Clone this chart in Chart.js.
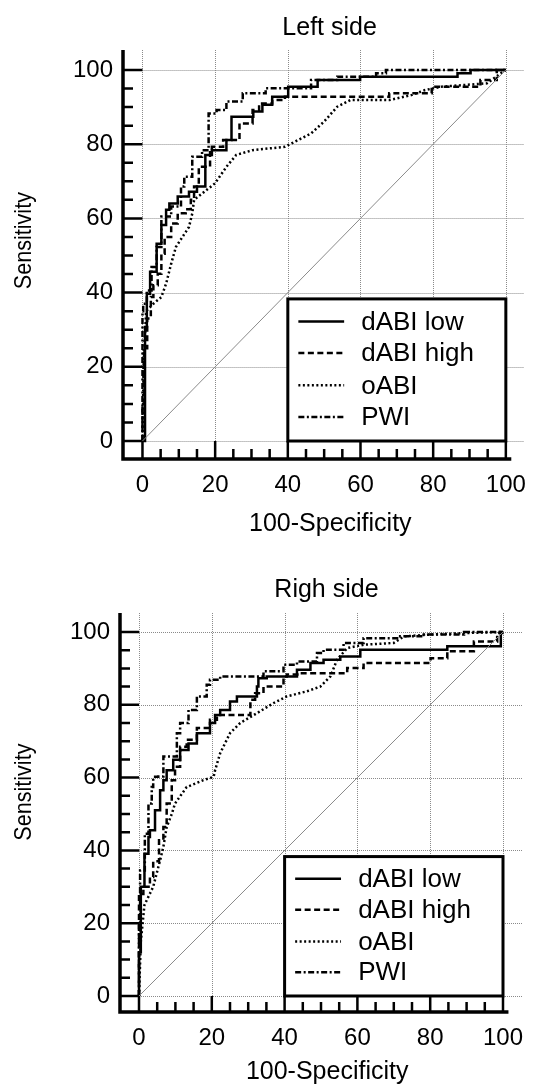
<!DOCTYPE html>
<html>
<head>
<meta charset="utf-8">
<script src="https://cdn.jsdelivr.net/npm/chart.js@4.4.1/dist/chart.umd.min.js"></script>
<style>
  html, body { margin: 0; padding: 0; background: #fff; }
  .panel { position: relative; width: 538px; }
  #leftPanel { height: 545px; }
  #rightPanel { height: 544px; }
</style>
</head>
<body>
<div class="panel" id="leftPanel"><canvas id="leftChart"></canvas></div>
<div class="panel" id="rightPanel"><canvas id="rightChart"></canvas></div>
<script>
// ROC curves (x = 100-Specificity, y = Sensitivity)
const tickValues = [0, 20, 40, 60, 80, 100];
const seriesNames = ["dABI low", "dABI high", "oABI", "PWI"];
const diagX = [0, 100];
const diagY = [0, 100];

// Left side
const leftLowX = [0, 0.7, 0.7, 1.2, 2.1, 3.9, 5.2, 6.5, 7.4, 9.7, 12.8, 15.0, 17.3, 19.1, 23.1, 24.5, 26.7, 30.5, 33.0, 35.7, 40.1, 48.2, 59.9, 86.7, 90.3, 99.3, 100];
const leftLowY = [0, 0, 9, 30.7, 39.7, 45.6, 53.2, 58.2, 62.3, 64.0, 65.9, 67.2, 68.6, 77.1, 78.4, 81.1, 87.4, 87.4, 88.8, 90.6, 92.8, 95.5, 97.3, 98.2, 99.1, 100, 100];
const leftHighX = [0, 0.5, 1.3, 2.3, 3.0, 4.2, 5.2, 6.1, 7.9, 9.7, 11.9, 13.3, 14.2, 15.5, 18.6, 19.1, 22.2, 26.7, 30.3, 32.1, 35.7, 39.2, 48.2, 67.9, 79.6, 93.0, 97.5, 99.3, 100];
const leftHighY = [0, 10, 25, 33, 38.8, 42, 45.1, 50.5, 55.0, 58.6, 61.4, 62.5, 65.0, 68.6, 73.9, 78.4, 79.3, 81.1, 85.6, 89.2, 91.0, 91.9, 92.8, 92.8, 93.7, 95.5, 97.3, 100, 100];
const leftOX = [0, 0.3, 1.0, 3.0, 5.2, 6.5, 7.9, 9.2, 11.0, 12.8, 13.7, 14.2, 17.7, 20.0, 23.1, 25.8, 30.3, 39.2, 42.8, 46.4, 50.0, 53.6, 57.2, 67.9, 74.2, 77.8, 82.3, 94.8, 99.3, 100];
const leftOY = [0, 20, 35, 37, 38.8, 42.4, 47.8, 52.3, 55.0, 57.7, 61.3, 65.0, 67.7, 69.5, 73.9, 77.1, 78.4, 79.3, 81.1, 82.9, 86.1, 90.1, 91.9, 91.9, 93.3, 94.6, 95.5, 96.4, 99.6, 100];
const leftPwiX = [0, 0.2, 1.2, 2.5, 3.9, 5.2, 7.9, 10.6, 11.5, 13.7, 16.4, 18.2, 18.2, 20.4, 23.1, 27.6, 33.9, 46.4, 53.6, 64.3, 67.0, 72.4, 99.3, 100];
const leftPwiY = [0, 35, 37, 40.6, 46.9, 52.3, 60.5, 63.2, 68.6, 71.2, 76.6, 78.4, 82.9, 88.3, 89.2, 91.5, 93.7, 95.1, 97.3, 98.2, 99.1, 100, 100, 100];

// Righ side
const rightLowX = [0, 0.5, 1.5, 2.6, 3.0, 4.4, 5.8, 6.7, 7.6, 9.4, 11.3, 13.6, 15.9, 19.5, 20.9, 22.3, 25.0, 26.9, 32.4, 32.8, 35.1, 43.4, 47.1, 50.7, 55.3, 60.8, 64.5, 84.7, 85.6, 99.4, 99.4, 100];
const rightLowY = [0, 12, 30, 39.1, 43.7, 45.5, 51.0, 56.5, 59.3, 62.0, 64.9, 67.6, 69.4, 72.2, 75.0, 77.2, 78.6, 80.9, 82.3, 85.0, 87.3, 87.8, 89.6, 91.5, 92.4, 93.3, 95.1, 95.1, 96.1, 96.1, 99.7, 100];
const rightHighX = [0, 1.2, 3.0, 3.9, 5.5, 6.7, 7.6, 9.0, 9.9, 11.3, 13.1, 15.9, 19.5, 21.4, 24.1, 30.6, 31.9, 34.2, 39.7, 40.6, 44.3, 57.2, 61.7, 80.1, 84.7, 92.0, 98.4, 99.8, 100];
const rightHighY = [0, 28, 30, 32.7, 37, 42.8, 46.4, 52.9, 59.3, 63.0, 68.5, 70.4, 73.6, 75.9, 77.2, 77.2, 81.4, 83.2, 85.0, 87.8, 88.3, 88.7, 90.1, 91.5, 92.8, 94.7, 97.4, 99.7, 100];
const rightOX = [0, 0.5, 1.5, 3.9, 5.8, 6.7, 7.6, 9.0, 9.9, 13.1, 17.7, 20.5, 20.9, 22.3, 25.0, 27.8, 32.4, 37.0, 40.6, 46.1, 49.8, 52.6, 54.4, 57.2, 61.7, 70.0, 72.8, 80.1, 89.3, 99.4, 100];
const rightOY = [0, 15, 25, 30, 37.3, 41, 46.4, 50, 52.9, 57.4, 59.3, 60.2, 62, 66.7, 72.2, 75, 77.7, 80.5, 82.3, 83.7, 85, 87.8, 92.4, 95.6, 96.5, 97, 98.8, 99.3, 99.7, 100, 100];
const rightPwiX = [0, 0.3, 1.6, 2.6, 3.5, 3.9, 5.3, 6.7, 10.4, 11.3, 13.6, 15.9, 18.6, 19.5, 22.3, 34.2, 39.7, 43.4, 48.9, 50.7, 56.2, 61.7, 70.9, 78.3, 89.3, 99.4, 100];
const rightPwiY = [0, 20, 34.5, 44.6, 52.9, 57.4, 60.2, 60.3, 65.8, 72.2, 75.0, 78.6, 82.3, 85.5, 86.9, 87.8, 89.2, 91.0, 91.9, 94.2, 95.1, 97.0, 98.3, 98.8, 99.3, 100, 100];

const FONT = '"Liberation Sans", Arial, Helvetica, sans-serif';
const dashes = [[], [6, 3.5], [2, 2.5], [6, 2.5, 2, 2.5]];

function toPoints(xs, ys) {
  return xs.map((v, i) => ({ x: v, y: ys[i] }));
}

// grid, offset axes, ticks, legend box and titles in the MedCalc look
const rocFrame = {
  id: "rocFrame",
  beforeDatasetsDraw(chart, args, o) {
    const { ctx, chartArea: a, scales: { x, y } } = chart;
    const x0 = x.getPixelForValue(0), y0 = y.getPixelForValue(0);
    ctx.save();
    ctx.strokeStyle = "#8a8a8a";
    ctx.lineWidth = 1;
    ctx.setLineDash([1, 1]);
    ctx.beginPath();
    tickValues.forEach(v => {
      const px = Math.round(x.getPixelForValue(v)) + 0.5;
      ctx.moveTo(px, y0); ctx.lineTo(px, a.top);
      const py = Math.round(y.getPixelForValue(v)) + 0.5;
      ctx.moveTo(x0, py); ctx.lineTo(a.right, py);
    });
    ctx.stroke();

    ctx.setLineDash([]);
    ctx.strokeStyle = "#000";
    ctx.lineWidth = 2.5;
    ctx.beginPath();
    for (let v = 0; v <= 100; v += 5) {
      const major = v % 20 === 0;
      const px = x.getPixelForValue(v), py = y.getPixelForValue(v);
      ctx.moveTo(px, a.bottom); ctx.lineTo(px, major ? y0 : a.bottom - 10);
      ctx.moveTo(a.left, py); ctx.lineTo(major ? x0 : a.left + 10, py);
    }
    ctx.stroke();

    ctx.lineWidth = 3.5;
    ctx.beginPath();
    ctx.moveTo(a.left, a.top);
    ctx.lineTo(a.left, a.bottom);
    ctx.lineTo(x.getPixelForValue(o.axisEnd), a.bottom);
    ctx.stroke();
    ctx.restore();
  },
  afterDatasetsDraw(chart, args, o) {
    const { ctx, chartArea: a, scales: { x, y } } = chart;
    ctx.save();
    // legend
    const bx = x.getPixelForValue(40), bw = x.getPixelForValue(100) - bx;
    const by = y.getPixelForValue(o.legendTop), bh = y.getPixelForValue(0) - by;
    ctx.fillStyle = "#fff";
    ctx.fillRect(bx, by, bw, bh);
    ctx.strokeStyle = "#000";
    ctx.lineWidth = 3;
    ctx.strokeRect(bx, by, bw, bh);
    ctx.font = "26px " + FONT;
    ctx.fillStyle = "#000";
    ctx.textAlign = "left";
    ctx.textBaseline = "middle";
    chart.data.datasets.slice(1).forEach((ds, i) => {
      const py = y.getPixelForValue(o.legendRows[i]);
      ctx.setLineDash(ds.borderDash);
      ctx.lineWidth = 2.5;
      ctx.beginPath();
      ctx.moveTo(x.getPixelForValue(42.9), py);
      ctx.lineTo(x.getPixelForValue(55.5), py);
      ctx.stroke();
      ctx.fillText(ds.label, x.getPixelForValue(60.2), py + 1);
    });
    ctx.setLineDash([]);

    // titles
    ctx.font = "25px " + FONT;
    ctx.textAlign = "center";
    ctx.fillText(o.title, x.getPixelForValue(51.5), a.top - o.titleGap);
    ctx.fillText("100-Specificity", x.getPixelForValue(51.7), a.bottom + o.xTitleGap);
    ctx.font = "24px " + FONT;
    ctx.translate(24, y.getPixelForValue(o.yTitleAt));
    ctx.rotate(-Math.PI / 2);
    ctx.scale(0.9, 1);
    ctx.fillText("Sensitivity", 0, 0);
    ctx.restore();
  }
};

function rocChart(canvasId, g, title, series) {
  const lines = series.map((s, i) => ({
    label: seriesNames[i],
    data: toPoints(s[0], s[1]),
    showLine: true,
    borderColor: "#000",
    borderWidth: 2.5,
    borderDash: dashes[i],
    borderCapStyle: "butt",
    borderJoinStyle: "miter",
    stepped: i === 2 ? false : "after",
    pointRadius: 0
  }));
  return new Chart(document.getElementById(canvasId), {
    type: "scatter",
    data: {
      datasets: [
        { label: "ref", data: toPoints(diagX, diagY), showLine: true, borderColor: "#8a8a8a", borderWidth: 1, pointRadius: 0 },
        ...lines
      ]
    },
    options: {
      responsive: true,
      maintainAspectRatio: false,
      animation: false,
      layout: { padding: { top: g.padTop, right: g.padRight, left: 0, bottom: 0 } },
      plugins: {
        legend: { display: false },
        tooltip: { enabled: false },
        rocFrame: { title: title, titleGap: g.titleGap, xTitleGap: g.xTitleGap, yTitleAt: g.yTitleAt, axisEnd: 101.5, legendTop: 38.3, legendRows: [32.2, 23.7, 15.0, 6.5] }
      },
      scales: {
        x: {
          type: "linear", min: g.xMin, max: g.xMax,
          afterFit: s => { s.height = g.xAxisH; },
          afterBuildTicks: s => { s.ticks = tickValues.map(v => ({ value: v })); },
          grid: { display: false, drawTicks: false },
          border: { display: false },
          ticks: { padding: 12, color: "#000", maxRotation: 0, font: { family: FONT, size: 24 } }
        },
        y: {
          type: "linear", min: g.yMin, max: g.yMax,
          afterFit: s => { s.width = g.yAxisW; },
          afterBuildTicks: s => { s.ticks = tickValues.map(v => ({ value: v })); },
          grid: { display: false, drawTicks: false },
          border: { display: false },
          ticks: { padding: 10, color: "#000", font: { family: FONT, size: 24 } }
        }
      }
    },
    plugins: [rocFrame]
  });
}

rocChart("leftChart",
  { padTop: 50, padRight: 3, yAxisW: 123, xAxisH: 86, xMin: -5.36, xMax: 105.1, yMin: -4.85, yMax: 105.39, titleGap: 22, xTitleGap: 65, yTitleAt: 54 },
  "Left side",
  [[leftLowX, leftLowY], [leftHighX, leftHighY], [leftOX, leftOY], [leftPwiX, leftPwiY]]);

rocChart("rightChart",
  { padTop: 68, padRight: 16, yAxisW: 120, xAxisH: 77, xMin: -5.22, xMax: 105.22, yMin: -4.4, yMax: 105.22, titleGap: 23, xTitleGap: 60, yTitleAt: 56 },
  "Righ side",
  [[rightLowX, rightLowY], [rightHighX, rightHighY], [rightOX, rightOY], [rightPwiX, rightPwiY]]);
</script>
</body>
</html>
